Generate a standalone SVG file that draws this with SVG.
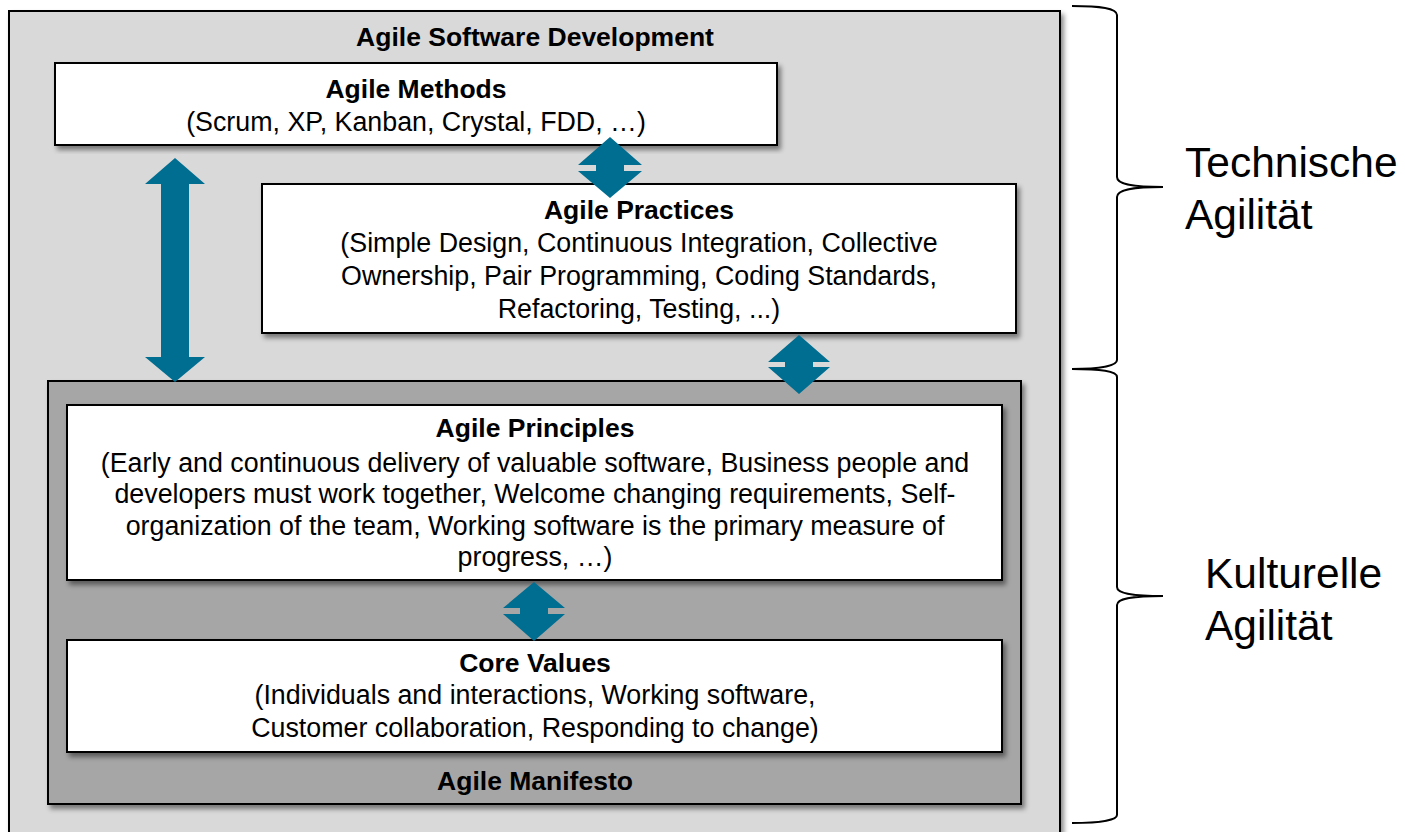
<svg xmlns="http://www.w3.org/2000/svg" width="1405" height="832" viewBox="0 0 1405 832">
<defs>
<filter id="sh" x="-5%" y="-5%" width="110%" height="115%">
<feDropShadow dx="3" dy="4" stdDeviation="2.5" flood-color="#000" flood-opacity="0.45"/>
</filter>
<style>
.t{font-family:"Liberation Sans",Arial,sans-serif;font-size:26.8px;fill:#000;text-anchor:middle}
.b{font-weight:bold;font-size:26.5px}
.big{font-family:"Liberation Sans",Arial,sans-serif;font-size:42.5px;fill:#000}
.box{fill:#fff;stroke:#000;stroke-width:2}
.arr{fill:#006e91}
.brace{fill:none;stroke:#000;stroke-width:2}
</style>
</defs>
<rect width="1405" height="832" fill="#fff"/>
<g id="agile-software-development">
<rect x="9" y="11" width="1051" height="840" fill="#d9d9d9" stroke="#000" stroke-width="2" filter="url(#sh)"/>
<text class="t b" x="535" y="46">Agile Software Development</text>
</g>
<g id="agile-methods">
<rect class="box" x="55" y="63" width="722" height="82" filter="url(#sh)"/>
<text class="t b" x="416" y="98">Agile Methods</text>
<text class="t" x="416" y="131">(Scrum, XP, Kanban, Crystal, FDD, …)</text>
</g>
<g id="agile-practices">
<rect class="box" x="262" y="184" width="754" height="149" filter="url(#sh)"/>
<text class="t b" x="639" y="219">Agile Practices</text>
<text class="t" x="639" y="252">(Simple Design, Continuous Integration, Collective</text>
<text class="t" x="639" y="285">Ownership, Pair Programming, Coding Standards,</text>
<text class="t" x="639" y="318">Refactoring, Testing, ...)</text>
</g>
<g id="agile-manifesto">
<rect x="48" y="381" width="973" height="423" fill="#a6a6a6" stroke="#000" stroke-width="2" filter="url(#sh)"/>
<text class="t b" x="535" y="790">Agile Manifesto</text>
</g>
<g id="agile-principles">
<rect class="box" x="67" y="405" width="935" height="175" filter="url(#sh)"/>
<text class="t b" x="535" y="437">Agile Principles</text>
<text class="t" x="535" y="472">(Early and continuous delivery of valuable software, Business people and</text>
<text class="t" x="535" y="503">developers must work together, Welcome changing requirements, Self-</text>
<text class="t" x="535" y="535">organization of the team, Working software is the primary measure of</text>
<text class="t" x="535" y="566">progress, …)</text>
</g>
<g id="core-values">
<rect class="box" x="67" y="640" width="935" height="112" filter="url(#sh)"/>
<text class="t b" x="535" y="672">Core Values</text>
<text class="t" x="535" y="704">(Individuals and interactions, Working software,</text>
<text class="t" x="535" y="737">Customer collaboration, Responding to change)</text>
</g>
<g id="connectors">
<polygon class="arr" points="175,158 205,184 189,184 189,357 205,357 175,382 145,357 161,357 161,184 145,184"/>
<polygon class="arr" points="610,137 642,165 624,165 624,171 642,171 610,198 578,171 596,171 596,165 578,165"/>
<polygon class="arr" points="799,335 830,362 813,362 813,367 830,367 799,394 768,367 785,367 785,362 768,362"/>
<polygon class="arr" points="534,582 565,608 548,608 548,614 565,614 534,641 503,614 520,614 520,608 503,608"/>
</g>
<g id="technische-agilitaet">
<path class="brace" d="M1072,6 C1100,6 1117,8 1117,15 L1117,177 C1117,184 1130,187 1163,187 C1130,187 1117,190 1117,197 L1117,360 C1117,366 1100,369 1072,369"/>
<text class="big" x="1185" y="177">Technische</text>
<text class="big" x="1185" y="229">Agilität</text>
</g>
<g id="kulturelle-agilitaet">
<path class="brace" d="M1072,369 C1100,369 1117,371 1117,377 L1117,587 C1117,593 1130,596 1163,596 C1130,596 1117,599 1117,605 L1117,815 C1117,820 1100,823 1072,823"/>
<text class="big" x="1205" y="588">Kulturelle</text>
<text class="big" x="1205" y="640">Agilität</text>
</g>
</svg>
